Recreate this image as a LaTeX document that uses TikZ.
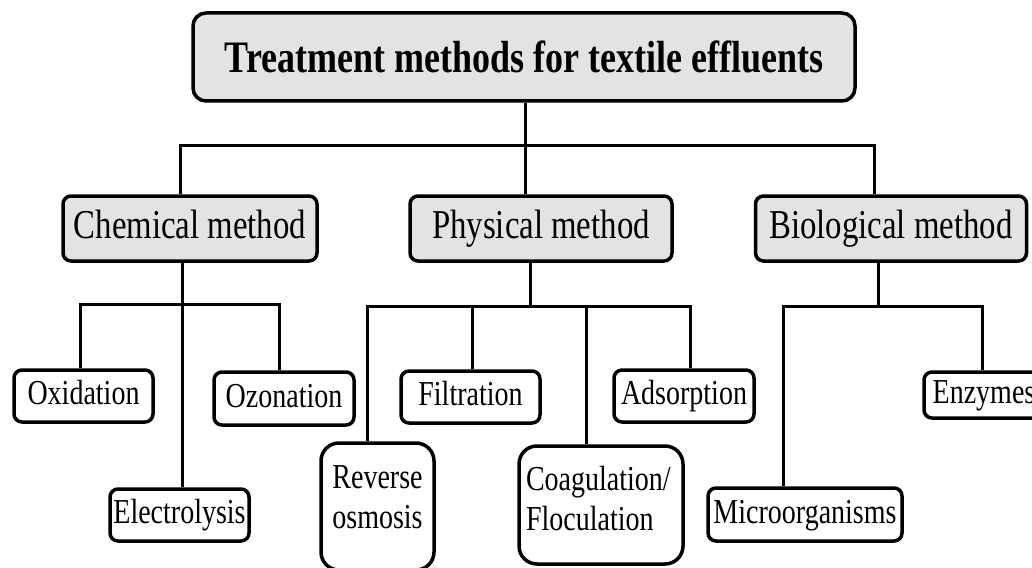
\documentclass[tikz,border=0pt]{standalone}
\usepackage{fontspec}
\setmainfont{Liberation Serif}[FakeStretch=0.8]
\definecolor{boxgray}{HTML}{E3E3E3}
\tikzset{
 box/.style={draw, line width=3.5pt, rounded corners=8pt, inner sep=0pt, align=center},
 head/.style={box, fill=boxgray, rounded corners=13pt, font=\fontsize{45}{50}\selectfont\bfseries},
 cat/.style={box, fill=boxgray, font=\fontsize{41}{45}\selectfont, text height=29pt, text depth=9pt},
 leaf/.style={box, fill=white, font=\fontsize{35}{40}\selectfont},
 small/.style={leaf, text height=25pt, text depth=8pt},
 tall/.style={leaf, rounded corners=18pt},
 conn/.style={line width=3pt},
}
\begin{document}
\begin{tikzpicture}[x=1pt,y=-1pt]
\useasboundingbox (0,0) rectangle (1032,567);
\clip (0,0) rectangle (1032,567);
% level 1
\node[head, minimum width=662pt, minimum height=88pt] (top) at (524,57) {Treatment methods for textile effluents};
% level 2
\node[cat, minimum width=254pt, minimum height=65pt] (chem) at (190,228.5) {Chemical method};
\node[cat, minimum width=262pt, minimum height=65pt] (phys) at (541,228.5) {Physical method};
\node[cat, minimum width=271pt, minimum height=65pt] (bio) at (891,228.5) {Biological method};
% level 3
\node[small, minimum width=139pt, minimum height=52pt] (oxi) at (83.5,396) {Oxidation};
\node[small, minimum width=140pt, minimum height=53pt] (ozo) at (284,398.5) {Ozonation};
\node[small, minimum width=139pt, minimum height=52pt] (elec) at (179.5,515) {Electrolysis};
\node[small, minimum width=139pt, minimum height=52pt] (fil) at (470.5,397) {Filtration};
\node[small, minimum width=140pt, minimum height=52pt] (ads) at (684,396) {Adsorption};
\node[tall, minimum width=113pt, minimum height=127pt] (rev) at (377.5,506.5)
  {\parbox[c][82pt][t]{108pt}{\centering Reverse\\osmosis}};
\node[tall, minimum width=164pt, minimum height=118pt] (coag) at (601,505)
  {\parbox[c][78pt][t]{150pt}{\raggedright Coagulation/\\Floculation}};
\node[small, minimum width=194pt, minimum height=53pt] (micro) at (805,514.5) {Microorganisms};
\node[small, minimum width=120pt, minimum height=46pt] (enz) at (984,395) {Enzymes};
% bus coordinates
\coordinate (b1L) at (180,145);
\coordinate (b1R) at (874,145);
\coordinate (b1C) at (525,145);
\coordinate (b2L) at (80,304);
\coordinate (b2C) at (182,304);
\coordinate (b2R) at (279,304);
\coordinate (b3L) at (367,306);
\coordinate (b3C) at (530,306);
\coordinate (b3F) at (472,306);
\coordinate (b3G) at (586,306);
\coordinate (b3R) at (690,306);
\coordinate (b4L) at (783,306);
\coordinate (b4C) at (878,306);
\coordinate (b4R) at (982,306);
% level 1 -> 2
\draw[conn] (b1C |- top.south) -- (b1C |- phys.north);
\draw[conn] (b1L |- chem.north) -- (b1L) -- (b1R) -- (b1R |- bio.north);
% chemical
\draw[conn] (b2C |- chem.south) -- (b2C |- elec.north);
\draw[conn] (b2L |- oxi.north) -- (b2L) -- (b2R) -- (b2R |- ozo.north);
% physical
\draw[conn] (b3C |- phys.south) -- (b3C);
\draw[conn] (b3L |- rev.north) -- (b3L) -- (b3R) -- (b3R |- ads.north);
\draw[conn] (b3F) -- (b3F |- fil.north);
\draw[conn] (b3G) -- (b3G |- coag.north);
% biological
\draw[conn] (b4C |- bio.south) -- (b4C);
\draw[conn] (b4L |- micro.north) -- (b4L) -- (b4R) -- (b4R |- enz.north);
\end{tikzpicture}
\end{document}
